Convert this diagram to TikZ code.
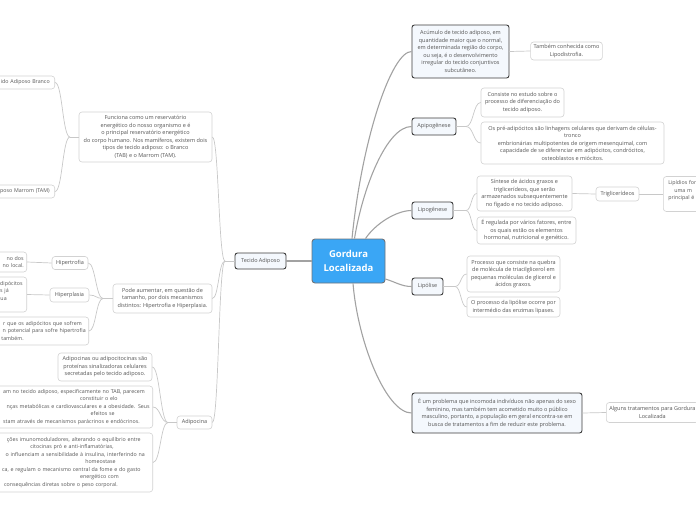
\documentclass[tikz,border=0pt]{standalone}
\usepackage{fontspec}
\setmainfont{Open Sans}
\usetikzlibrary{positioning}
\definecolor{centerblue}{HTML}{3AA6F5}
\definecolor{centerline}{HTML}{6F7379}
\definecolor{topicline}{HTML}{3C3C3C}
\definecolor{topicfill}{HTML}{F4F8FD}
\definecolor{leafline}{HTML}{D2D2D2}
\definecolor{twigline}{HTML}{C8C8C8}
\definecolor{trunkline}{HTML}{A2A2A2}
\definecolor{txt}{HTML}{555555}
\newcommand\rpad[1]{\hspace*{#1}\mbox{}}

\begin{document}
\begin{tikzpicture}[x=1pt,y=-1pt,
    central/.style={draw=centerline, fill=centerblue, rounded corners=3pt, line width=0.9pt,
        text=white, font=\bfseries\fontsize{9.5}{14}\selectfont, align=center},
    topic/.style={draw=topicline, fill=topicfill, rounded corners=2.5pt, line width=0.9pt,
        text=txt, font=\fontsize{5.5}{7.5}\selectfont, align=center, inner xsep=3pt, inner ysep=2pt},
    leaf/.style={draw=leafline, fill=white, rounded corners=3pt, line width=0.6pt,
        text=txt, font=\fontsize{5.5}{7.5}\selectfont, align=center, inner xsep=3pt, inner ysep=2pt},
    cutleaf/.style={leaf, font=\fontsize{5.3}{7.5}\selectfont},
    trunk/.style={draw=trunkline, line width=1.1pt},
    twig/.style={draw=twigline, line width=0.7pt}]
    \useasboundingbox (0,0) rectangle (696,520);

    \node[central, minimum width=73pt, minimum height=44pt] (gordura) at (348.5,261) {Gordura\\Localizada};

    % left side
    \node[topic, minimum width=51pt, minimum height=16pt] (tecido) at (260.5,261) {Tecido Adiposo};
    \node[leaf, minimum width=133pt, minimum height=50pt] (funciona) at (145.5,137) {Funciona como um reservatório\\energético do nosso organismo e é\\o principal reservatório energético\\do corpo humano. Nos mamíferos, existem dois\\tipos de tecido adiposo: o Branco\\(TAB) e o Marrom (TAM).};
    \node[cutleaf, anchor=east, text width=60pt, align=right, minimum height=13pt] (branco) at (55,82.5) {ido Adiposo Branco\rpad{2pt}};
    \node[cutleaf, anchor=east, text width=60pt, align=right, minimum height=13pt] (marrom) at (55,191.5) {poso Marrom (TAM)\rpad{2pt}};
    \node[leaf, minimum width=99pt, minimum height=29pt] (pode) at (162.5,298.5) {Pode aumentar, em questão de\\tamanho, por dois mecanismos\\distintos: Hipertrofia e Hiperplasia.};
    \node[leaf, minimum width=36pt, minimum height=13pt] (hipertrofia) at (70,263) {Hipertrofia};
    \node[leaf, minimum width=39pt, minimum height=14pt] (hiperplasia) at (69.5,295) {Hiperplasia};
    \node[cutleaf, anchor=east, text width=50pt, align=right, minimum height=20pt] (hipertrofiaTxt) at (27,262) {no dos\\no local.};
    \node[cutleaf, anchor=east, text width=50pt, align=right, minimum height=35pt] (hiperplasiaTxt) at (27,294.5) {dipócitos\rpad{1pt}\\s já\rpad{15pt}\\ua\rpad{17pt}\\\mbox{}};
    \node[cutleaf, anchor=east, text width=110pt, align=right, minimum height=28pt] (podeTxt) at (89,331) {r que os adipócitos que sofrem\rpad{4pt}\\n potencial para sofre hipertrofia\\também.\rpad{62pt}};
    \node[leaf, minimum width=35pt, minimum height=13pt] (adipocina) at (194.5,422.5) {Adipocina};
    \node[leaf, minimum width=94pt, minimum height=28pt] (adipoA) at (105,367) {Adipocinas ou adipocitocinas são\\proteínas sinalizadoras celulares\\secretadas pelo tecido adiposo.};
    \node[cutleaf, anchor=east, text width=160pt, align=right, minimum height=42pt] (adipoB) at (153,407) {am no tecido adiposo, especificamente no TAB, parecem\rpad{5pt}\\constituir o elo\rpad{32pt}\\nças metabólicas e cardiovasculares e a obesidade. Seus\\efeitos se\rpad{35pt}\\stam através de mecanismos parácrinos e endócrinos.\rpad{10pt}};
    \node[cutleaf, anchor=east, text width=160pt, align=right, minimum height=59pt] (adipoC) at (153,462.5) {ções imunomoduladores, alterando o equilíbrio entre\rpad{9pt}\\citocinas pró e anti-inflamatórias,\rpad{36pt}\\o influenciam a sensibilidade à insulina, interferindo na\rpad{5pt}\\homeostase\rpad{34pt}\\ca, e regulam o mecanismo central da fome e do gasto\rpad{9pt}\\energético com\rpad{31pt}\\consequências diretas sobre o peso corporal.\rpad{32pt}};

    % right side
    \node[topic, minimum width=97pt, minimum height=53pt] (acumulo) at (460.5,51.5) {Acúmulo de tecido adiposo, em\\quantidade maior que o normal,\\em determinada região do corpo,\\ou seja, é o desenvolvimento\\irregular do tecido conjuntivos\\subcutâneo.};
    \node[leaf, minimum width=67pt, minimum height=18pt] (lipodistrofia) at (566.5,51) {Também conhecida como\\Lipodistrofia.};
    \node[topic, minimum width=44pt, minimum height=17pt] (apipo) at (434,126.5) {Apipogênese};
    \node[leaf, minimum width=83pt, minimum height=29pt] (apipoA) at (522.5,102.5) {Consiste no estudo sobre o\\processo de diferenciação do\\tecido adiposo.};
    \node[leaf, minimum width=183pt, minimum height=42pt] (apipoB) at (572.5,143) {Os pré-adipócitos são linhagens celulares que derivam de células-\\tronco\\embrionárias multipotentes de origem mesenquimal, com\\capacidade de se diferenciar em adipócitos, condrócitos,\\osteoblastos e miócitos.};
    \node[topic, minimum width=41pt, minimum height=17pt] (lipog) at (432.5,210.5) {Lipogênese};
    \node[leaf, minimum width=95pt, minimum height=35pt] (lipogA) at (524.5,193.5) {Síntese de ácidos graxos e\\triglicerídeos, que serão\\armazenados subsequentemente\\no fígado e no tecido adiposo.};
    \node[leaf, minimum width=99pt, minimum height=27pt] (lipogB) at (526.5,230.5) {É regulada por vários fatores, entre\\os quais estão os elementos\\hormonal, nutricional e genético.};
    \node[leaf, minimum width=43pt, minimum height=14pt] (trig) at (617.5,194) {Triglicerídeos};
    \node[cutleaf, anchor=west, text width=60pt, align=left, minimum height=35pt] (lipidios) at (663,194) {\hspace*{2pt}Lipídios for\\\hspace*{8pt}uma m\\\hspace*{2pt}principal é\\\mbox{}};
    \node[topic, minimum width=31pt, minimum height=17pt] (lipolise) at (427.5,286.5) {Lipólise};
    \node[leaf, minimum width=93pt, minimum height=36pt] (lipolA) at (513.5,274) {Processo que consiste na quebra\\de molécula de triacilglicerol em\\pequenas moléculas de glicerol e\\ácidos graxos.};
    \node[leaf, minimum width=93pt, minimum height=20pt] (lipolB) at (513.5,307) {O processo da lipólise ocorre por\\intermédio das enzimas lipases.};
    \node[topic, minimum width=170pt, minimum height=40pt] (problema) at (497,413) {É um problema que incomoda indivíduos não apenas do sexo\\feminino, mas também tem acometido muito o público\\masculino, portanto, a população em geral encontra-se em\\busca de tratamentos a fim de reduzir este problema.};
    \node[leaf, anchor=west, minimum height=20pt] (tratamentos) at (606,412.5) {Alguns tratamentos para Gordura\\Localizada};

    % junctions
    \coordinate (tecidoJ) at (225,261);
    \coordinate (funcionaJ) at (70,137);
    \coordinate (podeJ) at (103,298.5);
    \coordinate (adipocinaJ) at (168,422.5);
    \coordinate (apipoJ) at (466,126.5);
    \coordinate (lipogJ) at (466,210.5);
    \coordinate (lipolJ) at (455,286.5);

    % trunk connectors
    \draw[trunk] (gordura.west) -- (tecido.east);
    \draw[trunk] ([xshift=3.5pt]gordura.north) .. controls +(10,-100) and +(-20,0) .. (acumulo.west);
    \draw[trunk] ([xshift=6pt]gordura.north) .. controls +(8,-50) and +(-25,0) .. (apipo.west);
    \draw[trunk] ([xshift=17pt]gordura.north) .. controls +(10,-15) and +(-15,0) .. (lipog.west);
    \draw[trunk] ([yshift=-18pt]gordura.east) .. controls +(10,3) and +(-10,0) .. (lipolise.west);
    \draw[trunk] ([xshift=4.5pt]gordura.south) .. controls +(5,60) and +(-25,0) .. (problema.west);

    % left twigs
    \draw[twig] (tecido.west) -- (tecidoJ);
    \foreach \kid in {funciona,pode,adipocina}
        \draw[twig] (tecidoJ) .. controls +(-6.5,0) and +(6.5,0) .. (\kid.east);
    \draw[twig] (funciona.west) -- (funcionaJ);
    \foreach \kid in {branco,marrom}
        \draw[twig] (funcionaJ) .. controls +(-7.5,0) and +(7.5,0) .. (\kid.east);
    \draw[twig] (pode.west) -- (podeJ);
    \foreach \kid in {hipertrofia,hiperplasia,podeTxt}
        \draw[twig] (podeJ) .. controls +(-7,0) and +(7,0) .. (\kid.east);
    \draw[twig] (hipertrofia.west) -- (hipertrofiaTxt.east);
    \draw[twig] (hiperplasia.west) -- (hiperplasiaTxt.east);
    \draw[twig] (adipocina.west) -- (adipocinaJ);
    \foreach \kid in {adipoA,adipoB,adipoC}
        \draw[twig] (adipocinaJ) .. controls +(-7.5,0) and +(7.5,0) .. (\kid.east);

    % right twigs
    \draw[twig] (acumulo.east) -- (lipodistrofia.west);
    \draw[twig] (apipo.east) -- (apipoJ);
    \foreach \kid in {apipoA,apipoB}
        \draw[twig] (apipoJ) .. controls +(7.5,0) and +(-7.5,0) .. (\kid.west);
    \draw[twig] (lipog.east) -- (lipogJ);
    \foreach \kid in {lipogA,lipogB}
        \draw[twig] (lipogJ) .. controls +(5.5,0) and +(-5.5,0) .. (\kid.west);
    \draw[twig] (lipogA.east) -- (trig.west);
    \draw[twig] (trig.east) -- (lipidios.west);
    \draw[twig] (lipolise.east) -- (lipolJ);
    \foreach \kid in {lipolA,lipolB}
        \draw[twig] (lipolJ) .. controls +(6,0) and +(-6,0) .. (\kid.west);
    \draw[twig] (problema.east) -- (tratamentos.west);
\end{tikzpicture}
\end{document}
